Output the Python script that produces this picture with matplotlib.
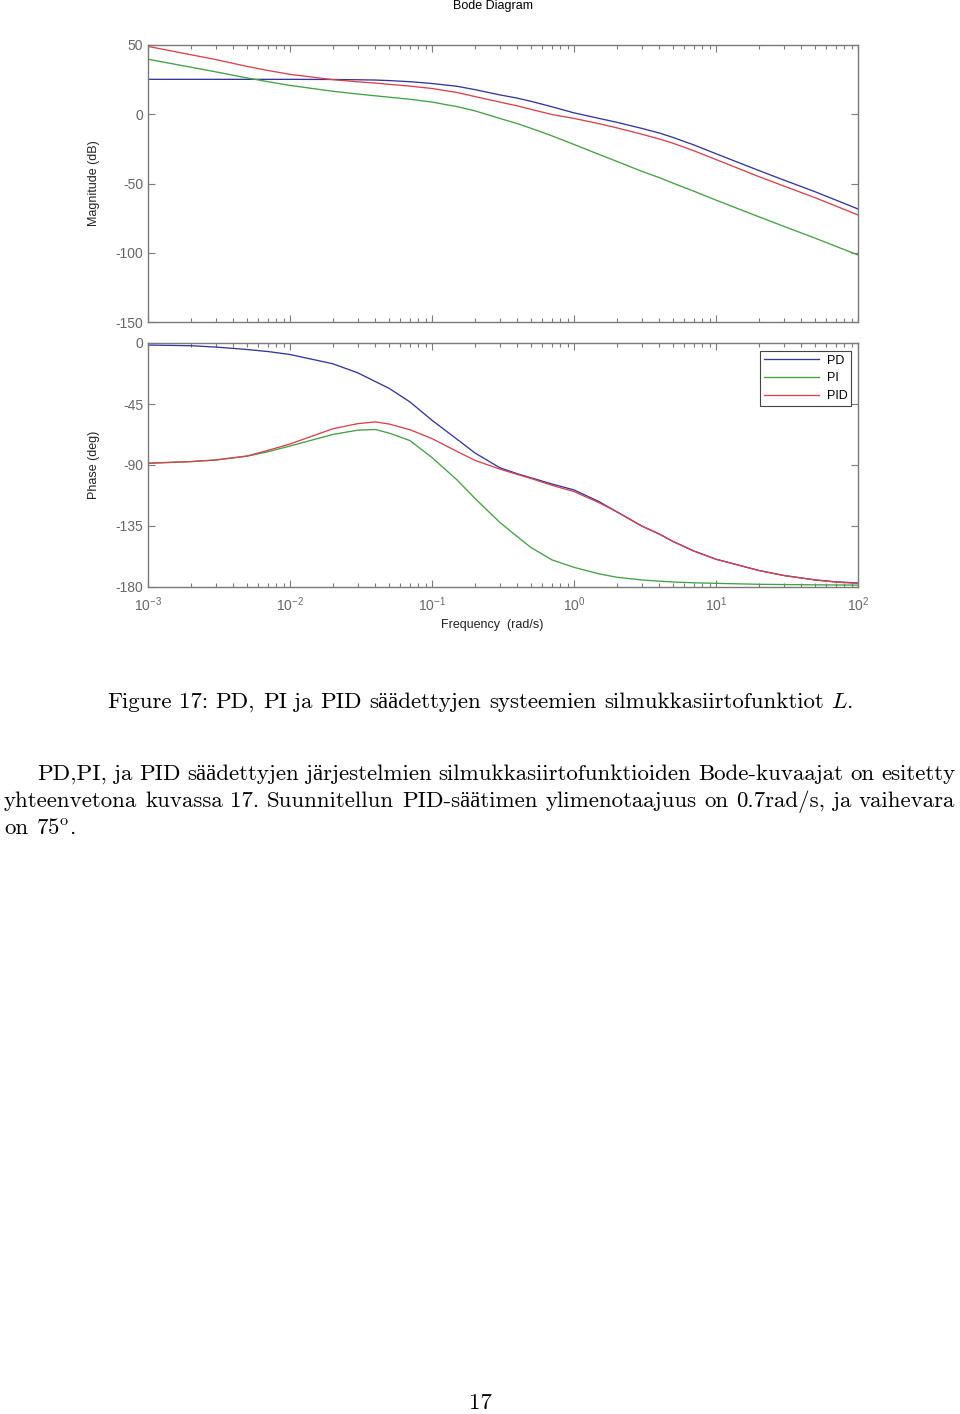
import matplotlib
matplotlib.use("Agg")
import matplotlib.pyplot as plt
import numpy as np

# frequency points (rad/s)
freq = [0.001, 0.002, 0.003, 0.005, 0.007, 0.01, 0.02, 0.03, 0.04, 0.05, 0.07,
        0.1, 0.15, 0.2, 0.3, 0.4, 0.5, 0.7, 1, 1.5, 2, 3, 4, 5, 7,
        10, 20, 30, 50, 70, 100]

# magnitude (dB)
mag_pd = [25.2, 25.2, 25.2, 25.2, 25.2, 25.2, 25.1, 24.9, 24.7, 24.3, 23.5,
          22.2, 20.2, 17.8, 14.0, 11.6, 9.3, 5.4, 1.0, -3.0, -5.8, -10.2, -13.6, -16.8, -22.2,
          -28.5, -40.6, -47.5, -56.0, -62.0, -68.4]
mag_pi = [39.7, 34.0, 30.6, 26.2, 23.5, 20.8, 16.6, 14.6, 13.3, 12.3, 10.8,
          8.8, 5.5, 2.5, -3.0, -6.8, -10.2, -15.6, -21.8, -29.0, -34.0, -41.2, -45.8, -49.8, -55.6,
          -62.0, -74.0, -80.9, -89.5, -95.4, -101.6]
mag_pid = [49.0, 43.0, 39.5, 34.5, 31.6, 28.8, 25.0, 23.4, 22.5, 21.6, 20.3,
           18.6, 15.7, 12.8, 8.8, 6.0, 3.5, -0.2, -3.0, -6.8, -9.8, -14.4, -17.9, -21.0, -26.4,
           -32.7, -45.0, -51.8, -60.3, -66.3, -72.7]

# phase (deg)
ph_pd = [-1.5, -2.0, -3.0, -4.8, -6.3, -8.5, -15.3, -22.0, -28.5, -33.5, -43.5,
         -57.0, -71.0, -81.0, -92.0, -96.5, -99.5, -104.0, -108.4, -117.0, -124.5, -135.0, -141.0, -146.5, -153.5,
         -159.5, -167.8, -171.5, -174.8, -176.2, -177.0]
ph_pi = [-88.7, -87.5, -86.3, -83.5, -80.2, -76.0, -67.5, -64.3, -63.8, -66.5, -72.0,
         -84.5, -101.0, -114.5, -132.3, -143.0, -151.0, -160.0, -165.5, -170.3, -172.8, -174.8, -175.7, -176.3, -176.9,
         -177.3, -178.0, -178.2, -178.4, -178.5, -178.6]
ph_pid = [-88.7, -87.5, -86.3, -83.3, -79.2, -74.5, -63.3, -59.5, -58.2, -59.8, -64.0,
          -70.5, -80.0, -86.5, -93.0, -97.0, -100.0, -105.0, -109.6, -117.8, -124.5, -135.0, -141.0, -146.5, -153.5,
          -159.5, -167.8, -171.5, -174.8, -176.4, -177.3]

labels = ["PD", "PI", "PID"]
colors = ["#33379a", "#45a045", "#d8414f"]

caption = "Figure 17: PD, PI ja PID säädettyjen systeemien silmukkasiirtofunktiot $L$."
para = ["PD,PI, ja PID säädettyjen järjestelmien silmukkasiirtofunktioiden Bode-kuvaajat on esitetty",
        "yhteenvetona kuvassa 17. Suunnitellun PID-säätimen ylimenotaajuus on 0.7rad/s, ja vaihevara",
        "on 75$^{\\mathrm{o}}$."]

plt.rcParams['font.family'] = ['Liberation Sans', 'DejaVu Sans']
plt.rcParams['axes.unicode_minus'] = False
plt.rcParams['mathtext.fontset'] = 'custom'
plt.rcParams['mathtext.rm'] = 'Liberation Sans'
plt.rcParams['mathtext.it'] = 'Liberation Sans:italic'
plt.rcParams['mathtext.bf'] = 'Liberation Sans:bold'

W, H = 960, 1414
fig = plt.figure(figsize=(W / 100, H / 100), dpi=100)

def box(l, t, r, b):
    return [l / W, 1 - b / H, (r - l) / W, (b - t) / H]

ax1 = fig.add_axes(box(148, 45, 858, 322))
ax2 = fig.add_axes(box(148, 343, 858, 587))

mags = [mag_pd, mag_pi, mag_pid]
phs = [ph_pd, ph_pi, ph_pid]
for i in range(3):
    ax1.semilogx(freq, mags[i], color=colors[i], lw=0.95)
    ax2.semilogx(freq, phs[i], color=colors[i], lw=0.95, label=labels[i])

gray = "#7a7a7a"
for ax in (ax1, ax2):
    ax.set_xlim(1e-3, 1e2)
    for s in ax.spines.values():
        s.set_color(gray)
        s.set_linewidth(1.0)
    ax.tick_params(which='both', direction='in', top=True, right=True, color=gray,
                   labelcolor="#666666", labelsize=10)
    ax.tick_params(which='major', length=5, width=0.8)
    ax.tick_params(which='minor', length=3, width=0.8)

ax1.set_ylim(-150, 50)
ax1.set_yticks([-150, -100, -50, 0, 50])
ax1.tick_params(labelbottom=False)
ax2.set_ylim(-180, 0)
ax2.set_yticks([-180, -135, -90, -45, 0])
ax2.tick_params(axis='x', pad=6)

ax1.set_ylabel("Magnitude (dB)", fontsize=9, color="#222222")
ax2.set_ylabel("Phase (deg)", fontsize=9, color="#222222")
ax1.yaxis.set_label_coords(-0.068, 0.5)
ax2.yaxis.set_label_coords(-0.068, 0.5)

fig.text(493 / W, 1 - 6 / H, "Bode Diagram", ha='center', va='center', fontsize=9)
fig.text(492 / W, 1 - 625 / H, "Frequency  (rad/s)", ha='center', va='center', fontsize=9,
         color="#222222")

leg = ax2.legend(loc='upper right', bbox_to_anchor=(851 / W, 1 - 351 / H),
                 bbox_transform=fig.transFigure, fontsize=9, handlelength=4.4,
                 fancybox=False, framealpha=1, borderaxespad=0, labelspacing=0.45,
                 borderpad=0.3, handletextpad=0.6)
leg.get_frame().set_edgecolor("#444444")
leg.get_frame().set_linewidth(0.8)

# document text below the chart
BODY = ['cmr10', 'Liberation Serif']
FS = 16.5
rend = fig.canvas.get_renderer()

def place_line(words, y, x0=None, x1=None, center=None):
    ts = [fig.text(0, 1 - y / H, w, fontsize=FS, family=BODY, math_fontfamily='cm',
                   va='baseline', color='black') for w in words]
    ws = [t.get_window_extent(rend).width for t in ts]
    gap = 0.333 * FS * 100 / 72
    if x1 is not None:
        gap = (x1 - x0 - sum(ws)) / (len(ws) - 1)
    elif center is not None:
        x0 = center - (sum(ws) + gap * (len(ws) - 1)) / 2
    x = x0
    for t, w in zip(ts, ws):
        t.set_x(x / W)
        x += w + gap

place_line(caption.split(" "), 708, center=480)
place_line(para[0].split(" "), 780, x0=37, x1=955)
place_line(para[1].split(" "), 807, x0=4, x1=955)
place_line(para[2].split(" "), 834, x0=4)
place_line(["17"], 1409, center=480)

fig.savefig("out.png", dpi=100)
